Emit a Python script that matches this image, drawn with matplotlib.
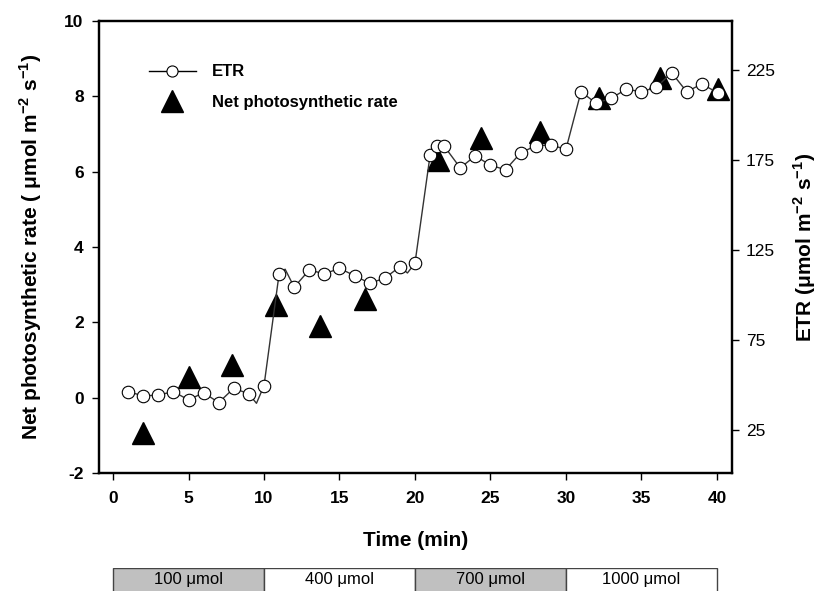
import numpy as np
import matplotlib
matplotlib.use("Agg")
import matplotlib.pyplot as plt
from matplotlib.lines import Line2D

plt.rcParams["font.family"] = ["Liberation Sans", "DejaVu Sans"]
plt.rcParams["mathtext.fontset"] = "custom"
plt.rcParams["mathtext.rm"] = "Liberation Sans:bold"
plt.rcParams["mathtext.bf"] = "Liberation Sans:bold"
plt.rcParams["axes.unicode_minus"] = False

# ETR (right axis); some vertices have no visible marker
etr_time = [1, 2, 3, 4, 5, 6, 7, 8, 9, 9.5, 10, 11, 11.4, 12, 13, 14, 15, 16, 17, 18,
            19, 19.5, 20, 21, 21.45, 21.95, 23, 24, 25, 26, 27, 28, 29, 30,
            31, 32, 33, 34, 35, 36, 37, 38, 39, 40.1]
etr_value = [46.3, 43.9, 44.4, 46.3, 41.7, 45.7, 40.2, 48.2, 45.0, 39.8, 49.6,
             111.7, 114.3, 104.3, 113.9, 111.7, 114.8, 110.7, 106.5, 109.3,
             115.7, 112.2, 117.6, 177.5, 182.6, 182.5, 170.6, 177.3, 172.0, 169.6,
             178.9, 182.9, 183.3, 180.9, 212.9, 206.5, 209.3, 214.3, 212.9, 215.4,
             223.5, 212.9, 217.2, 212.1]
etr_hidden = [9.5, 11.4, 19.5]

# Net photosynthetic rate (left axis)
net_time = [2.0, 5.0, 7.9, 10.8, 13.7, 16.7, 21.5, 24.4, 28.3, 32.2, 36.2, 40.1]
net_rate = [-0.95, 0.55, 0.87, 2.45, 1.89, 2.61, 6.31, 6.89, 7.04, 7.95, 8.49, 8.20]

# light levels shown under the time axis
light_start = [0, 10, 20, 30]
light_width = [10, 10, 10, 10]
light_label = ["100 \u03bcmol", "400 \u03bcmol", "700 \u03bcmol", "1000 \u03bcmol"]
light_color = ["#c0c0c0", "white", "#c0c0c0", "white"]

fig = plt.figure(figsize=(8.23, 5.91), dpi=100)
ax = fig.add_axes([0.1203, 0.1997, 0.7691, 0.7648])
ax2 = ax.twinx()

ax.plot(net_time, net_rate, ls="none", marker="^", ms=16, color="black")
show = [i for i, t in enumerate(etr_time) if t not in etr_hidden]
ax2.plot(etr_time, etr_value, "-", color="#333333", lw=1.0, marker="o", ms=9,
         mfc="white", mec="black", mew=0.8, markevery=show)

ax.set_xlim(-0.93, 41.0)
ax.set_ylim(-2, 10)
ax2.set_ylim(1.1, 252.2)
ax.set_xticks(np.arange(0, 41, 5))
ax.set_yticks(np.arange(-2, 11, 2))
ax2.set_yticks([25, 75, 125, 175, 225])

for a in (ax, ax2):
    for s in a.spines.values():
        s.set_linewidth(1.6)
ax.tick_params(axis="x", direction="out", length=5, width=1, labelsize=12.5, pad=8)
ax.tick_params(axis="y", direction="out", length=5, width=1, labelsize=12.5, pad=6)
ax2.tick_params(axis="y", direction="out", length=5, width=1, labelsize=12.5, pad=5)
for lab in ax.get_xticklabels() + ax.get_yticklabels():
    lab.set_fontweight("bold")

ax.set_xlabel("Time (min)", fontsize=15, fontweight="bold", labelpad=18)
ax.set_ylabel("Net photosynthetic rate ( \u03bcmol m$^{-2}$ s$^{-1}$)",
              fontsize=15, fontweight="bold", labelpad=15)
ax2.set_ylabel("ETR (\u03bcmol m$^{-2}$ s$^{-1}$)",
               fontsize=15, fontweight="bold", labelpad=12)

handles = [
    Line2D([], [], color="black", lw=1, marker="o", ms=8, mfc="white", mec="black", mew=0.8),
    Line2D([], [], ls="none", marker="^", ms=16, color="black"),
]
fig.legend(handles, ["ETR", "Net photosynthetic rate"], loc="upper left",
           bbox_to_anchor=(0.181, 0.891), frameon=False, borderpad=0,
           borderaxespad=0, handlelength=2.8, handletextpad=1.0,
           labelspacing=0.95, prop={"size": 12, "weight": "bold"})

# light-level boxes under the x axis
axb = fig.add_axes([0.1203, -0.01, 0.7691, 0.0485])
axb.set_xlim(ax.get_xlim())
axb.set_ylim(0, 1)
axb.bar(light_start, 1, width=light_width, align="edge", color=light_color,
        edgecolor="#444444", linewidth=1)
for x0, w, lab in zip(light_start, light_width, light_label):
    axb.text(x0 + w / 2, 0.6, lab, ha="center", va="center", fontsize=12)
axb.axis("off")

fig.savefig("out.png", dpi=100)
